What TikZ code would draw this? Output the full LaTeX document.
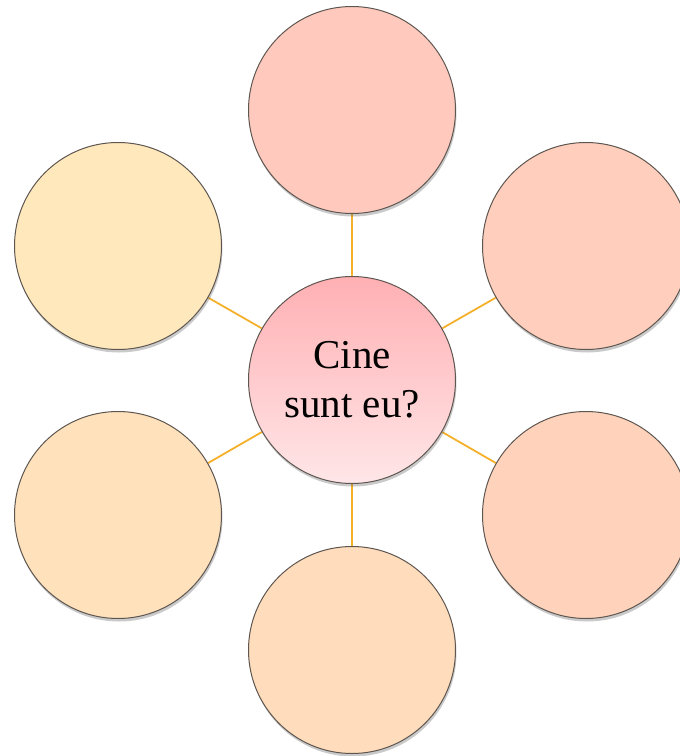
\documentclass[tikz,border=0pt]{standalone}
\usepackage{fontspec}
\setmainfont{Liberation Serif}
\usetikzlibrary{shadows,backgrounds}
\definecolor{cTop}{HTML}{FFCABD}
\definecolor{cTR}{HTML}{FFCEBC}
\definecolor{cBR}{HTML}{FFD3BB}
\definecolor{cBot}{HTML}{FFDCBB}
\definecolor{cBL}{HTML}{FFE1BB}
\definecolor{cTL}{HTML}{FFE8BB}
\definecolor{cCtrTop}{HTML}{FFB0B3}
\definecolor{cCtrBot}{HTML}{FFE6E8}
\definecolor{rimc}{HTML}{5E5650}
\definecolor{linkc}{HTML}{F4B02A}
\tikzset{
  bubble/.style={circle, minimum size=207pt, inner sep=0pt, draw=rimc, line width=1pt,
    drop shadow={shadow xshift=1pt, shadow yshift=-3pt, opacity=0.35, fill=black!60}},
  link/.style={draw=linkc, line width=1.8pt}
}
\begin{document}
\begin{tikzpicture}[x=1pt,y=-1pt]
\useasboundingbox (0,0) rectangle (680,756);
\clip (0,0) rectangle (680,756);
\node[bubble, fill=cTop] (top) at (352,110) {};
\node[bubble, fill=cTR] (tr) at (586,246) {};
\node[bubble, fill=cBR] (br) at (586,515) {};
\node[bubble, fill=cBot] (bot) at (352,650) {};
\node[bubble, fill=cBL] (bl) at (118,515) {};
\node[bubble, fill=cTL] (tl) at (118,246) {};
\node[bubble, top color=cCtrTop, bottom color=cCtrBot, align=center,
  font=\fontsize{41}{49}\selectfont] (ctr) at (352,380) {Cine\\sunt eu?};
\begin{scope}[on background layer]
\draw[link] (ctr) -- (top);
\draw[link] (ctr) -- (tr);
\draw[link] (ctr) -- (br);
\draw[link] (ctr) -- (bot);
\draw[link] (ctr) -- (bl);
\draw[link] (ctr) -- (tl);
\end{scope}
\end{tikzpicture}
\end{document}
